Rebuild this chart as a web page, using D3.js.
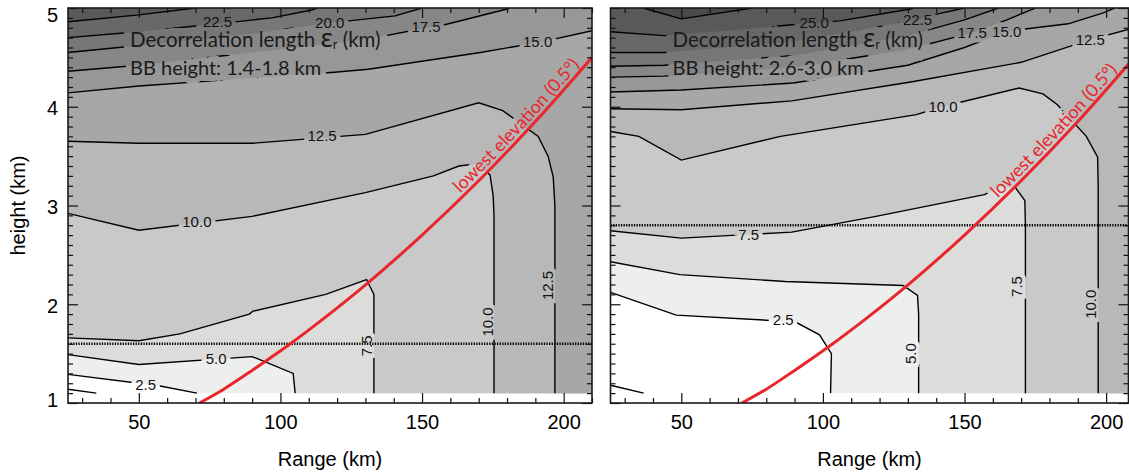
<!DOCTYPE html>
<html>
<head>
<meta charset="utf-8">
<title>Decorrelation length</title>
<script src="https://cdn.jsdelivr.net/npm/d3@7"></script>
<style>
    body { margin: 0; background: #ffffff; }
    #viz { width: 1129px; height: 474px; overflow: hidden; }
</style>
</head>
<body>
<div id="viz"></div>
<script>

/* decorrelation length contours for two bright band heights */

// contour levels (km) and grey of the band above each level
const levels     = [0.0, 2.5, 5.0, 7.5, 10.0, 12.5, 15.0, 17.5, 20.0, 22.5, 25.0, 27.5];
const bandColors = ["#ffffff", "#edefee", "#dcdcdb", "#c9c9c9", "#b8b8b8", "#a7a7a7",
                    "#979797", "#878787", "#777777", "#686868", "#595959", "#4a4a4a"];

// axis ticks
const xMajor = [50, 100, 150, 200];
const xMinor = [30, 40, 60, 70, 80, 90, 110, 120, 130, 140, 160, 170, 180, 190, 210];
const yMajor = [1, 2, 3, 4, 5];
const yMinor = d3.range(11, 50).filter(v => v % 10 !== 0).map(v => v / 10);

const gridBottom = 1.1;     // lowest height of the data grid (km)

// lowest elevation (0.5 deg) beam
const beamRange  = [71.4, 80, 90, 103, 115, 131, 150, 170, 190, 210];
const beamHeight = [1.00, 1.14, 1.33, 1.59, 1.85, 2.22, 2.70, 3.25, 3.85, 4.50];

// bright band
const bbText   = ["BB height: 1.4-1.8 km", "BB height: 2.6-3.0 km"];
const bbCenter = [1.6, 2.8];

// left panel contours [range km, height km]
const left_c00  = [[25,1.14],[35,1.10]];
const left_c25  = [[25,1.29],[50,1.20],[58,1.17],[70.5,1.10]];
const left_c50  = [[25,1.49],[50,1.39],[90,1.47],[104.5,1.30],[105.2,1.10]];
const left_c75  = [[25,1.66],[50,1.63],[64.5,1.70],[89,1.90],[90.3,1.93],[116,2.10],[130.4,2.25],[133,2.10],[133,1.10]];
const left_c100 = [[25,2.92],[50,2.75],[90,2.89],[130,3.13],[154,3.30],[163,3.40],[169,3.42],[174,3.31],[175.1,3.10],[175.4,2.90],[175.4,1.10]];
const left_c125 = [[25,3.65],[50,3.63],[90,3.63],[130,3.72],[170,4.04],[178.5,3.96],[191,3.70],[194.5,3.50],[196.3,3.29],[196.9,3.00],[196.9,1.10]];
const left_c150 = [[25,4.14],[50,4.21],[79.4,4.27],[119,4.35],[131,4.38],[170.6,4.55],[191,4.65],[210,4.77]];
const left_c175 = [[25,4.36],[50,4.42],[90,4.55],[130,4.68],[151.5,4.80],[158,4.83],[180,4.99],[181,5.0]];
const left_c200 = [[25,4.55],[50,4.62],[90,4.74],[117.5,4.85],[124,4.87],[140.5,4.92],[150,5.0]];
const left_c225 = [[25,4.70],[50,4.76],[78,4.84],[84,4.86],[97,4.90],[111,4.98],[113,5.0]];
const left_c250 = [[25,4.86],[50,4.93],[70,5.0]];

// right panel contours
const right_c00  = [[25,1.18],[36.7,1.10]];
const right_c25  = [[25,2.12],[48.2,1.89],[79,1.84],[91,1.81],[98.8,1.69],[103,1.50],[102.7,1.10]];
const right_c50  = [[25,2.43],[49.5,2.30],[86.7,2.23],[128.3,2.19],[133.4,2.09],[133.8,1.90],[133.8,1.10]];
const right_c75  = [[25,2.745],[50,2.67],[89,2.73],[118.7,2.89],[157,3.11],[163,3.19],[168,3.18],[171.3,3.05],[171.5,2.80],[171.5,1.10]];
const right_c100 = [[25,3.75],[35,3.70],[50,3.46],[85,3.70],[133,3.92],[142,4.0],[169.3,4.19],[177.7,4.13],[182.8,4.02],[193,3.70],[197,3.49],[197.2,3.20],[197.2,1.10]];
const right_c125 = [[25,3.98],[50,3.97],[89,4.06],[131,4.25],[170,4.45],[194.4,4.68],[210,4.80]];
const right_c150 = [[25,4.15],[50,4.17],[89.5,4.24],[130,4.42],[150,4.60],[164.8,4.76],[169.3,4.78],[186.6,4.84],[199,4.95],[203,5.0]];
const right_c175 = [[25,4.30],[44,4.31],[90,4.40],[130,4.58],[152.7,4.75],[165,4.88],[175,5.0]];
const right_c200 = [[25,4.41],[44,4.42],[90,4.52],[130,4.72],[150,4.88],[162,5.0]];
const right_c225 = [[25,4.55],[44,4.55],[90,4.66],[133.4,4.88],[139,4.93],[150,5.0]];
const right_c250 = [[25,4.76],[44,4.72],[70,4.78],[97,4.85],[106,4.87],[131,4.99],[132,5.0]];
const right_c275 = [[36.5,5.0],[50,4.89],[75,5.0]];

const leftLines  = [[0, left_c00], [2.5, left_c25], [5.0, left_c50], [7.5, left_c75], [10.0, left_c100],
                    [12.5, left_c125], [15.0, left_c150], [17.5, left_c175], [20.0, left_c200],
                    [22.5, left_c225], [25.0, left_c250]];
const rightLines = [[0, right_c00], [2.5, right_c25], [5.0, right_c50], [7.5, right_c75], [10.0, right_c100],
                    [12.5, right_c125], [15.0, right_c150], [17.5, right_c175], [20.0, right_c200],
                    [22.5, right_c225], [25.0, right_c250], [27.5, right_c275]];

// contour labels [text, range, height, vertical]
const leftLabels  = [["22.5",77.8,4.86,0], ["20.0",117.4,4.85,0], ["17.5",151.4,4.81,0], ["15.0",190.8,4.66,0],
                     ["12.5",114.7,3.71,0], ["10.0",70.5,2.84,0], ["5.0",77.3,1.45,0], ["2.5",52.4,1.19,0],
                     ["7.5",130.3,1.58,1], ["10.0",173.0,1.82,1], ["12.5",194.4,2.19,1]];
const rightLabels = [["25.0",96.9,4.85,0], ["22.5",133.4,4.88,0], ["17.5",152.7,4.75,0], ["15.0",164.9,4.76,0],
                     ["12.5",194.4,4.68,0], ["10.0",142.4,4.0,0], ["7.5",73.8,2.71,0], ["2.5",86.0,1.84,0],
                     ["5.0",130.9,1.50,1], ["7.5",168.5,2.18,1], ["10.0",194.4,2.0,1]];

const beamLabelStart = [164.5, 162.5];   // range where the red label starts (km), per panel

const axisFont  = "'Liberation Sans', Arial, sans-serif";
const labelFont = "Lato, 'Open Sans', sans-serif";
const red = "#e8262b";


class ContourPanel {

    constructor ( svg, defs, id, left, right, xMax, lines, labels, idx, yLabels ){

        this.svg = svg;
        this.defs = defs;
        this.id = id;
        this.lines = lines;         // [level, points]
        this.labels = labels;       // contour value labels
        this.idx = idx;             // panel index into bright band / label arrays
        this.yLabels = yLabels;     // draw height tick labels

        this.x = d3.scaleLinear([25, xMax], [left, right]);   // range (km)
        this.y = d3.scaleLinear([1, 5], [403, 8]);            // height (km)
        this.line = d3.line().x(d => this.x(d[0])).y(d => this.y(d[1]));

        this.g = svg.append("g").attr("id", id);

        this.make_defs();
        this.draw_fills();
        this.draw_bb();
        this.draw_lines();
        this.draw_beam();
        this.draw_texts(this.g, false);
        this.draw_texts(this.mask, true);
        this.draw_axes();
    }

    // clip for plot area, mask for gaps in lines under texts
    make_defs(){
        let [x0, x1] = this.x.range();
        let [y0, y1] = this.y.range();
        this.defs.append("clipPath").attr("id", "clip-" + this.id)
            .append("rect").attr("x", x0).attr("y", y1).attr("width", x1 - x0).attr("height", y0 - y1);

        this.mask = this.defs.append("mask").attr("id", "mask-" + this.id)
            .attr("maskUnits", "userSpaceOnUse")
            .attr("x", 0).attr("y", 0).attr("width", 1129).attr("height", 474);
        this.mask.append("rect").attr("width", 1129).attr("height", 474).attr("fill", "#fff");
    }

    // polygon of the area with values above a contour line
    band_polygon( pts ){
        let [x0, x1] = this.x.domain();
        let yTop = this.y.domain()[1];
        let corners = [[x1, gridBottom], [x1, yTop], [x0, yTop]];
        let last = pts[pts.length - 1];
        if (pts[0][1] >= yTop) return pts;          // starts and ends on top edge
        let k = 2;                                  // ends on top edge
        if (last[1] <= gridBottom) k = 0;           // ends on bottom of grid
        else if (last[0] >= x1) k = 1;              // ends on right edge
        return pts.concat(corners.slice(k));
    }

    draw_fills(){
        let [x0, x1] = this.x.domain();
        let yTop = this.y.domain()[1];
        let fills = this.g.append("g").attr("clip-path", `url(#clip-${this.id})`);

        fills.append("path")
            .attr("d", this.line([[x0, gridBottom], [x1, gridBottom], [x1, yTop], [x0, yTop]]) + "Z")
            .attr("fill", bandColors[0]);

        fills.selectAll("path.band").data(this.lines).join("path")
            .attr("class", "band")
            .attr("d", d => this.line(this.band_polygon(d[1])) + "Z")
            .attr("fill", d => bandColors[levels.indexOf(d[0])]);
    }

    // dotted line at bright band height
    draw_bb(){
        let [x0, x1] = this.x.domain();
        let h = bbCenter[this.idx];
        this.g.append("path")
            .attr("d", this.line([[x0, h], [x1, h]]))
            .attr("stroke", "#000").attr("stroke-width", 2.4)
            .attr("stroke-dasharray", "1.3,1.3");
    }

    draw_lines(){
        this.g.append("g")
            .attr("clip-path", `url(#clip-${this.id})`)
            .attr("mask", `url(#mask-${this.id})`)
          .selectAll("path").data(this.lines).join("path")
            .attr("d", d => this.line(d[1]))
            .attr("fill", "none")
            .attr("stroke", "#000")
            .attr("stroke-width", 1.4);
    }

    draw_beam(){
        let pts = beamRange.map((r, i) => [r, beamHeight[i]]);
        let bLine = d3.line().x(d => this.x(d[0])).y(d => this.y(d[1])).curve(d3.curveMonotoneX);
        this.beamPath = this.g.append("g").attr("clip-path", `url(#clip-${this.id})`)
            .append("path")
            .attr("id", "beam-" + this.id)
            .attr("d", bLine(pts))
            .attr("fill", "none")
            .attr("stroke", red)
            .attr("stroke-width", 3);

        // where along the curve the label starts
        let node = this.beamPath.node();
        let len = node.getTotalLength();
        let xs = this.x(beamLabelStart[this.idx]);
        let off = 0;
        for (let s = 0; s <= len; s += 1){
            if (node.getPointAtLength(s).x >= xs){ off = s; break; }
        }
        this.beamOffset = off;
    }

    draw_texts( target, halo ){

        let ink = halo ? "#000" : "#111";

        // contour value labels
        target.selectAll(null).data(this.labels).join("text")
            .attr("transform", d => `translate(${this.x(d[1])},${this.y(d[2])}) rotate(${d[3] ? -90 : 0})`)
            .attr("text-anchor", "middle")
            .attr("dy", "0.36em")
            .attr("font-family", axisFont)
            .attr("font-size", 15)
            .attr("fill", ink)
            .attr("stroke", halo ? "#000" : "none")
            .attr("stroke-width", halo ? 9 : 0)
            .text(d => d[0]);

        // title block
        let x0 = this.x.range()[0] + 62;
        let t1 = target.append("text")
            .attr("x", x0).attr("y", 47)
            .attr("font-family", labelFont).attr("font-size", 20.5)
            .attr("fill", "#1a1a1a")
            .attr("stroke", halo ? "#000" : "none").attr("stroke-width", halo ? 16 : 0);
        t1.append("tspan").text("Decorrelation length ");
        t1.append("tspan").attr("font-family", "'Noto Sans', sans-serif").attr("font-size", 26).text("\u03b5");
        t1.append("tspan").attr("font-size", 13).attr("dy", 2).text("r");
        t1.append("tspan").attr("dy", -2).text(" (km)");

        target.append("text")
            .attr("x", x0).attr("y", 75)
            .attr("font-family", labelFont).attr("font-size", 20)
            .attr("fill", "#1a1a1a")
            .attr("stroke", halo ? "#000" : "none").attr("stroke-width", halo ? 12 : 0)
            .text(bbText[this.idx]);

        // beam label along the red curve
        target.append("text")
            .attr("font-family", labelFont).attr("font-size", 18)
            .attr("fill", halo ? "#000" : red)
            .attr("stroke", halo ? "#000" : "none").attr("stroke-width", halo ? 10 : 0)
            .attr("dy", -4)
          .append("textPath")
            .attr("href", "#beam-" + this.id)
            .attr("startOffset", this.beamOffset)
            .text("lowest elevation (0.5\u00b0)");
    }

    draw_axes(){

        let ax = this.g.append("g");
        let [xl, xr] = this.x.range();
        let [yb, yt] = this.y.range();

        let style = sel => {
            sel.select(".domain").remove();
            sel.selectAll("line").attr("stroke", "#111").attr("stroke-width", 1.2);
            sel.attr("font-family", axisFont).attr("font-size", 20);
            sel.selectAll("text").attr("fill", "#000");
        };

        // bottom
        ax.append("g").attr("transform", `translate(0,${yb})`)
            .call(d3.axisBottom(this.x).tickValues(xMajor).tickSize(-10).tickSizeOuter(0).tickPadding(12))
            .call(style);
        ax.append("g").attr("transform", `translate(0,${yb})`)
            .call(d3.axisBottom(this.x).tickValues(xMinor).tickSize(-5).tickSizeOuter(0).tickFormat(""))
            .call(style);
        // top
        ax.append("g").attr("transform", `translate(0,${yt})`)
            .call(d3.axisTop(this.x).tickValues(xMajor).tickSize(-10).tickSizeOuter(0).tickFormat(""))
            .call(style);
        ax.append("g").attr("transform", `translate(0,${yt})`)
            .call(d3.axisTop(this.x).tickValues(xMinor).tickSize(-5).tickSizeOuter(0).tickFormat(""))
            .call(style);
        // left
        let yAx = d3.axisLeft(this.y).tickValues(yMajor).tickSize(-10).tickSizeOuter(0).tickPadding(10)
            .tickFormat(this.yLabels ? d3.format("d") : "");
        ax.append("g").attr("transform", `translate(${xl},0)`)
            .call(yAx)
            .call(style)
            .selectAll("text")
            .attr("dy", d => d === 5 ? "0.65em" : (d === 1 ? "0.15em" : "0.4em"));
        ax.append("g").attr("transform", `translate(${xl},0)`)
            .call(d3.axisLeft(this.y).tickValues(yMinor).tickSize(-5).tickSizeOuter(0).tickFormat(""))
            .call(style);
        // right
        ax.append("g").attr("transform", `translate(${xr},0)`)
            .call(d3.axisRight(this.y).tickValues(yMajor).tickSize(-10).tickSizeOuter(0).tickFormat(""))
            .call(style);
        ax.append("g").attr("transform", `translate(${xr},0)`)
            .call(d3.axisRight(this.y).tickValues(yMinor).tickSize(-5).tickSizeOuter(0).tickFormat(""))
            .call(style);

        // frame
        ax.append("rect")
            .attr("x", xl).attr("y", yt).attr("width", xr - xl).attr("height", yb - yt)
            .attr("fill", "none").attr("stroke", "#1a1a1a").attr("stroke-width", 1.6);

        // axis titles
        ax.append("text")
            .attr("x", (xl + xr) / 2).attr("y", 466)
            .attr("text-anchor", "middle")
            .attr("font-family", axisFont).attr("font-size", 20)
            .text("Range (km)");

        if (this.yLabels){
            ax.append("text")
                .attr("transform", `translate(25,${(yb + yt) / 2}) rotate(-90)`)
                .attr("text-anchor", "middle")
                .attr("font-family", axisFont).attr("font-size", 20)
                .text("height (km)");
        }
    }
}


function draw_chart(){

    const svg = d3.select("#viz").append("svg")
        .attr("width", 1129)
        .attr("height", 474);
    const defs = svg.append("defs");

    new ContourPanel(svg, defs, "left",  68,    592,    210,   leftLines,  leftLabels,  0, true);
    new ContourPanel(svg, defs, "right", 610.5, 1128.5, 207.9, rightLines, rightLabels, 1, false);
}

draw_chart();

</script>
</body>
</html>
